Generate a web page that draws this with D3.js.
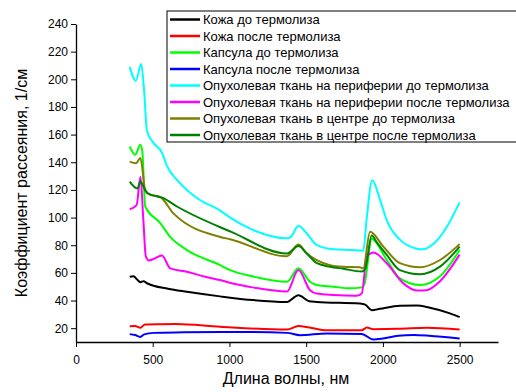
<!DOCTYPE html>
<html lang="ru">
<head>
<meta charset="utf-8">
<title>Коэффициент рассеяния</title>
<script src="https://d3js.org/d3.v7.min.js"></script>
<style>
  body { margin: 0; background: #fff; }
  svg { font-family: "Liberation Sans", Arial, sans-serif; }
</style>
</head>
<body>
<script>
// wavelength (nm), scattering coefficient (1/cm)
var skinBefore = [[350,57.2],[375,57.5],[400,55],[419,53.3],[440,54],[462,52.5],[600,48.5],[723,46.3],[939,43],[1156,40.3],[1375,39],[1449,43.9],[1520,39.5],[1569,39],[1851,37.8],[1885,37],[1927,33],[1981,34],[2111,36.2],[2220,36.4],[2300,35],[2437,30.7],[2500,28]];
var skinAfter = [[350,21.4],[385,21.5],[419,20.3],[450,22.7],[550,22.9],[650,23],[939,21],[1375,19],[1449,21.5],[1520,20.5],[1634,18.5],[1862,18.5],[1895,20.5],[1938,19.3],[2100,19.5],[2285,20.3],[2500,19]];
var capsuleBefore = [[350,151.4],[386,145.4],[419,152.6],[432,148],[451,108],[549,96],[614,86],[723,76.5],[939,65.6],[1005,62],[1150,57.5],[1375,53.6],[1449,63.3],[1525,53.6],[1569,51.2],[1677,50],[1786,48.8],[1862,49.5],[1880,52],[1927,84.5],[2025,69.3],[2111,56],[2242,51.2],[2372,57.5],[2500,76.5]];
var capsuleAfter = [[350,15.7],[385,15],[419,13.7],[445,15.5],[505,16.6],[700,17],[1000,17.3],[1375,16.6],[1460,14.9],[1634,16.2],[1862,15.8],[1938,11.8],[2000,12.5],[2100,14.5],[2200,15],[2300,14.5],[2500,12.5]];
var periphBefore = [[350,209],[390,199],[425,211],[445,190],[462,163],[505,154],[560,147],[590,138],[668,126],[790,114],[940,105],[1005,100],[1135,92],[1375,85],[1400,86],[1450,94],[1500,89],[1570,80],[1680,77],[1790,76.5],[1872,76],[1895,100],[1930,127],[1981,113],[2025,98],[2111,84],[2220,77.5],[2260,77],[2330,81],[2415,93],[2500,111]];
var periphAfter = [[350,106],[395,109],[420,129.5],[438,100],[455,72],[475,69],[505,70],[560,72.5],[614,63.3],[723,60.8],[842,57.2],[939,54.8],[1037,51.9],[1150,49.5],[1375,46.5],[1449,62],[1525,47.5],[1569,45],[1677,44],[1829,43.4],[1862,45],[1895,71.7],[1938,74.8],[2025,66.9],[2133,52.4],[2220,47.3],[2285,47.5],[2372,54],[2500,73.2]];
var centerBefore = [[350,140.5],[390,139.3],[420,143],[451,120],[484,116.4],[549,115],[570,112.7],[635,103],[940,86],[1005,84.3],[1375,72],[1449,80.5],[1504,74],[1569,69.3],[1656,65.6],[1742,64.4],[1851,64],[1872,63.3],[1916,89.8],[2003,79],[2111,67],[2242,64],[2372,69.3],[2500,80.8]];
var centerAfter = [[350,126],[400,121],[420,126],[450,120],[465,117.6],[570,114],[658,108],[940,93],[1005,90],[1375,74],[1450,79.4],[1504,74],[1570,67],[1656,64.4],[1742,63],[1862,61],[1885,63],[1927,87],[1960,82],[2025,73],[2111,62],[2242,59],[2372,64.5],[2500,79]];

var seriesNames = ["Кожа до термолиза", "Кожа после термолиза", "Капсула до термолиза", "Капсула после термолиза",
  "Опухолевая ткань на периферии до термолиза", "Опухолевая ткань на периферии после термолиза",
  "Опухолевая ткань в центре до термолиза", "Опухолевая ткань в центре после термолиза"];
var seriesData = [skinBefore, skinAfter, capsuleBefore, capsuleAfter, periphBefore, periphAfter, centerBefore, centerAfter];
var seriesColors = ["#000000", "#ff0000", "#00ff00", "#0000ff", "#00ffff", "#ff00ff", "#808000", "#008000"];

var xTicks = [0, 500, 1000, 1500, 2000, 2500];
var yTicks = [20, 40, 60, 80, 100, 120, 140, 160, 180, 200, 220, 240];

var w = 516, h = 392;
var svg = d3.select("body").append("svg").attr("width", w).attr("height", h);

var x = d3.scaleLinear().domain([0, 2750]).range([76, 498]);
var y = d3.scaleLinear().domain([10, 240]).range([342, 24]);

// lines
var line = d3.line()
  .x(function(d) { return x(d[0]); })
  .y(function(d) { return y(d[1]); })
  .curve(d3.curveMonotoneX);

svg.selectAll("path.series")
  .data(seriesData)
  .enter().append("path")
  .attr("class", "series")
  .attr("d", line)
  .attr("fill", "none")
  .attr("stroke", function(d, i) { return seriesColors[i]; })
  .attr("stroke-width", 2)
  .attr("stroke-linejoin", "round");

// axes, minor ticks first
var gx = svg.append("g").attr("transform", "translate(0," + y(10) + ")");
gx.call(d3.axisBottom(x).tickValues(d3.range(250, 2751, 500)).tickSize(4).tickFormat(""));
gx.call(d3.axisBottom(x).tickValues(xTicks).tickSize(5).tickSizeOuter(0).tickFormat(d3.format("d")));
gx.selectAll(".domain").attr("stroke-width", 1.3);
gx.selectAll("text").attr("font-size", 12).attr("fill", "#000").attr("dy", "1.15em");

var gy = svg.append("g").attr("transform", "translate(" + x(0) + ",0)");
gy.call(d3.axisLeft(y).tickValues(d3.range(10, 240, 20)).tickSize(3).tickFormat(""));
gy.call(d3.axisLeft(y).tickValues(yTicks).tickSize(5).tickSizeOuter(0));
gy.selectAll(".domain").attr("stroke-width", 1.3);
gy.selectAll("text").attr("font-size", 12).attr("fill", "#000");

// axis titles
svg.append("text")
  .attr("x", 286).attr("y", 384)
  .attr("text-anchor", "middle")
  .attr("font-size", 16)
  .text("Длина волны, нм");

svg.append("text")
  .attr("transform", "translate(27,183) rotate(-90)")
  .attr("text-anchor", "middle")
  .attr("font-size", 16)
  .text("Коэффициент рассеяния, 1/см");

// legend
var lg = svg.append("g").attr("transform", "translate(167,11)");
lg.append("rect")
  .attr("x", 0).attr("y", 0)
  .attr("width", 360).attr("height", 131)
  .attr("fill", "#fff").attr("stroke", "#000").attr("stroke-width", 1);

var rows = lg.selectAll("g.row")
  .data(seriesNames)
  .enter().append("g")
  .attr("class", "row")
  .attr("transform", function(d, i) { return "translate(0," + (8.5 + i * 16.5) + ")"; });

rows.append("line")
  .attr("x1", 3).attr("x2", 33)
  .attr("stroke", function(d, i) { return seriesColors[i]; })
  .attr("stroke-width", 2.5);

rows.append("text")
  .attr("x", 36).attr("y", 0)
  .attr("dy", "0.35em")
  .attr("font-size", 13)
  .text(function(d) { return d; });
</script>
</body>
</html>
